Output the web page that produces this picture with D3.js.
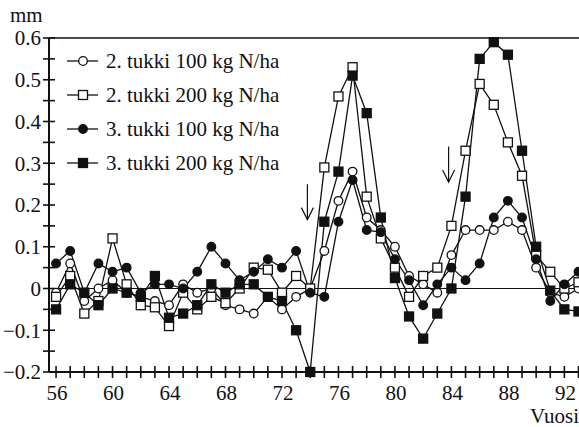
<!DOCTYPE html>
<html><head><meta charset="utf-8">
<script src="https://cdn.jsdelivr.net/npm/d3@7"></script>
<style>
html,body{margin:0;padding:0;background:#fff;}
svg{display:block;}
text{font-family:"Liberation Serif","Times New Roman",serif;fill:#111;}
</style></head>
<body>
<script>
const years = d3.range(56, 94);
const seriesNames = ["2. tukki 100 kg N/ha","2. tukki 200 kg N/ha","3. tukki 100 kg N/ha","3. tukki 200 kg N/ha"];
const t2n100 = [-0.01,0.06,-0.03,0.00,0.02,-0.01,-0.02,-0.03,-0.04,0.01,-0.01,0.00,-0.04,-0.05,-0.06,-0.02,-0.05,-0.02,0.00,0.09,0.21,0.28,0.17,0.14,0.10,0.03,0.01,-0.01,0.08,0.14,0.14,0.14,0.16,0.14,0.05,-0.01,-0.02,0.00];
const t2n200 = [-0.02,0.03,-0.06,-0.03,0.12,0.01,-0.04,-0.045,-0.09,-0.01,-0.05,-0.02,-0.035,0.00,0.05,0.045,-0.01,0.03,0.00,0.29,0.46,0.53,0.22,0.12,0.05,-0.02,0.03,0.05,0.15,0.33,0.49,0.44,0.35,0.27,0.08,0.04,0.00,0.015];
const t3n100 = [0.06,0.09,-0.01,0.06,0.04,0.05,-0.01,0.01,0.01,0.00,0.04,0.10,0.06,0.02,0.04,0.07,0.05,0.09,-0.01,-0.02,0.16,0.26,0.14,0.135,0.07,0.02,-0.04,0.01,0.05,0.02,0.06,0.17,0.21,0.17,0.07,-0.03,0.01,0.04];
const t3n200 = [-0.05,0.01,-0.01,-0.04,0.00,-0.01,-0.02,0.03,-0.07,-0.06,-0.04,0.01,-0.01,0.01,0.01,-0.02,-0.03,-0.10,-0.20,0.16,0.28,0.51,0.42,0.17,0.025,-0.067,-0.12,-0.06,0.00,0.22,0.55,0.59,0.56,0.33,0.10,-0.005,-0.05,-0.055];
const yTicks = [-0.2,-0.1,0,0.1,0.2,0.3,0.4,0.5,0.6];
const xTickLabels = [56,60,64,68,72,76,80,84,88,92];
const arrows = [{x:73.8, y0:0.25, y1:0.165},{x:83.8, y0:0.34, y1:0.255}];

const W=579,H=427;
const svg=d3.select("body").append("svg").attr("width",W).attr("height",H);
const x=d3.scaleLinear().domain([55.5,93]).range([49,578.5]);
const y=d3.scaleLinear().domain([-0.2,0.6]).range([372,38]);
const fs=21;

// frame lines
svg.append("line").attr("x1",x(55.5)).attr("x2",W).attr("y1",y(0.6)).attr("y2",y(0.6)).attr("stroke","#111").attr("stroke-width",1.4);
svg.append("line").attr("x1",x(55.5)).attr("x2",W).attr("y1",y(0)).attr("y2",y(0)).attr("stroke","#111").attr("stroke-width",1.2);
// axes
svg.append("line").attr("x1",x(55.5)).attr("x2",x(55.5)).attr("y1",y(0.6)).attr("y2",y(-0.2)).attr("stroke","#111").attr("stroke-width",2);
svg.append("line").attr("x1",x(55.5)).attr("x2",W).attr("y1",y(-0.2)).attr("y2",y(-0.2)).attr("stroke","#111").attr("stroke-width",2);
const yMinor=d3.range(-0.2,0.6001,0.05);
svg.selectAll(".yt").data(yMinor).enter().append("line")
  .attr("x1",x(55.5)-6).attr("x2",x(55.5)+6).attr("y1",d=>y(d)).attr("y2",d=>y(d)).attr("stroke","#111").attr("stroke-width",1.6);
svg.selectAll(".yl").data(yTicks).enter().append("text")
  .attr("x",41).attr("y",d=>y(d)).attr("dy","0.35em").attr("text-anchor","end").attr("font-size",fs)
  .text(d=>d===0?"0":d3.format(".1f")(d));
const xMinor=d3.range(56,94);
svg.selectAll(".xt").data(xMinor).enter().append("line")
  .attr("x1",d=>x(d)).attr("x2",d=>x(d)).attr("y1",y(-0.2)-6).attr("y2",y(-0.2)+6).attr("stroke","#111").attr("stroke-width",1.6);
svg.selectAll(".xl").data(xTickLabels).enter().append("text")
  .attr("x",d=>x(d)+1).attr("y",400).attr("text-anchor","middle").attr("font-size",fs).text(d=>d);
svg.append("text").attr("x",579).attr("y",423).attr("text-anchor","end").attr("font-size",fs).text("Vuosi");
svg.append("text").attr("x",10).attr("y",22).attr("font-size",fs).text("mm");

// arrows
arrows.forEach(a=>{
  const ax=x(a.x);
  svg.append("line").attr("x1",ax).attr("x2",ax).attr("y1",y(a.y0)).attr("y2",y(a.y1)).attr("stroke","#111").attr("stroke-width",1.2);
  svg.append("path").attr("d",`M${ax-6},${y(a.y1)-12} L${ax},${y(a.y1)} L${ax+6},${y(a.y1)-12}`).attr("fill","none").attr("stroke","#111").attr("stroke-width",1.2);
});

const series=[
  {name:seriesNames[0],vals:t2n100,shape:"circle",fill:"#fff"},
  {name:seriesNames[1],vals:t2n200,shape:"square",fill:"#fff"},
  {name:seriesNames[2],vals:t3n100,shape:"circle",fill:"#111"},
  {name:seriesNames[3],vals:t3n200,shape:"square",fill:"#111"}
];
const line=d3.line().x((d,i)=>x(years[i])).y(d=>y(d));
function marker(g,s,cx,cy){
  if(s.shape==="circle") g.append("circle").attr("cx",cx).attr("cy",cy).attr("r",4.3).attr("fill",s.fill).attr("stroke","#111").attr("stroke-width",1.3);
  else g.append("rect").attr("x",cx-4.5).attr("y",cy-4.5).attr("width",9).attr("height",9).attr("fill",s.fill).attr("stroke","#111").attr("stroke-width",1.3);
}
series.forEach(s=>{
  svg.append("path").attr("d",line(s.vals)).attr("fill","none").attr("stroke","#111").attr("stroke-width",1.3);
});
series.forEach(s=>{
  const g=svg.append("g");
  s.vals.forEach((v,i)=>marker(g,s,x(years[i]),y(v)));
});

// legend
const lg=svg.append("g");
series.forEach((s,i)=>{
  const cy=61+i*34;
  lg.append("line").attr("x1",67).attr("x2",98).attr("y1",cy).attr("y2",cy).attr("stroke","#111").attr("stroke-width",1.3);
  marker(lg,s,83,cy);
  lg.append("text").attr("x",106).attr("y",cy).attr("dy","0.35em").attr("font-size",fs).text(s.name);
});
</script>
</body></html>
